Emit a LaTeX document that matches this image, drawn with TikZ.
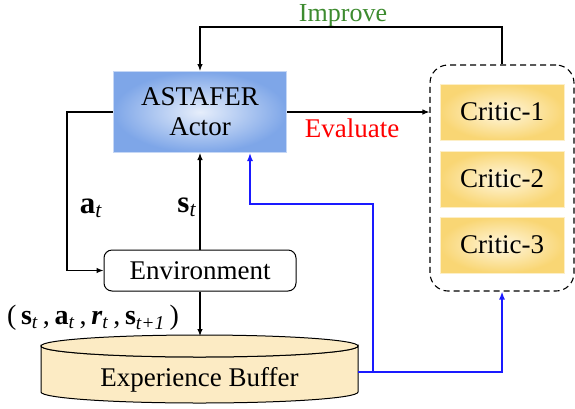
\documentclass[tikz,border=0pt]{standalone}
\usepackage{fontspec}
\setmainfont{Liberation Serif}
\usepackage{xcolor}
\usetikzlibrary{positioning}
\usetikzlibrary{arrows.meta}

\definecolor{actorin}{HTML}{E6EEFB}
\definecolor{actorout}{HTML}{7EA6E8}
\definecolor{criticin}{HTML}{FFF7E0}
\definecolor{criticout}{HTML}{F9D674}
\definecolor{bufferfill}{HTML}{FCEBC4}
\definecolor{improvegreen}{HTML}{3D8B2F}
\definecolor{feedblue}{HTML}{1A1AFF}

\newcommand{\bvec}[2]{\textbf{#1}\textsubscript{\textit{#2}}}

\tikzset{
  flow/.style={draw, line width=1.1pt, -{Latex[length=7pt,width=5.5pt]}},
  blueflow/.style={draw=feedblue, line width=1.4pt, -{Latex[length=8pt,width=6pt]}},
  actorbox/.style={rectangle, draw=actorout!45, line width=1pt, inner color=actorin, outer color=actorout,
    minimum width=173pt, minimum height=81pt, align=center},
  criticbox/.style={rectangle, draw=criticout!40, line width=1pt, inner color=criticin, outer color=criticout,
    minimum width=124pt, minimum height=56pt},
  envbox/.style={rectangle, draw, rounded corners=8pt, line width=1pt, minimum width=192pt, minimum height=41pt},
  ensemble/.style={rectangle, draw, dash pattern=on 6pt off 4pt, rounded corners=18pt, line width=1.1pt,
    minimum width=144pt, minimum height=226pt},
  buffer/.style={draw, fill=bufferfill, line width=1pt}
}

\begin{document}
\begin{tikzpicture}[x=1pt, y=-1pt, font=\fontsize{27}{30}\selectfont]
    \useasboundingbox (0,0) rectangle (575,408);

    % Nodes
    \node[actorbox] (actor) at (200,112) {ASTAFER\\Actor};
    \node[envbox] (env) at (200,270.5) {Environment};
    \node[ensemble] (crit) at (502,178) {};
    \node[criticbox] (c1) at (502,112) {Critic-1};
    \node[criticbox] (c2) at (502,179) {Critic-2};
    \node[criticbox] (c3) at (502,245) {Critic-3};

    % Experience buffer (cylinder)
    \draw[buffer] (41,346) -- (41,392) arc[start angle=180, end angle=0, x radius=158.5, y radius=11]
        -- (358,346) arc[start angle=0, end angle=180, x radius=158.5, y radius=11] -- cycle;
    \draw[buffer] (199.5,346) ellipse[x radius=158.5, y radius=11];
    \node (buffer) at (199.5,380) {Experience Buffer};
    \coordinate (buftop) at (200,336);
    \coordinate (bufright) at (358,372);
    \coordinate (split) at (373,372);
    \coordinate (toprail) at (350,27);

    % Labels
    \node[text=improvegreen, anchor=base, inner sep=0pt, font=\fontsize{26}{28}\selectfont] (improve) at (343,21) {Improve};
    \node[text=red] (evaluate) at (352,128) {Evaluate};
    \node[font=\fontsize{31}{34}\selectfont] (at) at (91,208) {\bvec{a}{t}};
    \node[font=\fontsize{31}{34}\selectfont] (st) at (187,207) {\bvec{s}{t}};
    \node[font=\fontsize{28}{30}\selectfont] (tuple) at (93,318)
        {(\,\bvec{s}{t}\,,\,\bvec{a}{t}\,,\,\textbf{\textit{r}}\textsubscript{\textit{t}}\,,\,\bvec{s}{t+1}\,)};

    % Edges
    \draw[flow] (actor.west) -- ++(-46,0) |- (env.west);
    \draw[flow] (env.north) -- (actor.south);
    \draw[flow] (env.south) -- (buftop);
    \draw[flow] (actor.east) -- (crit.west |- actor.east);
    \draw[flow] (crit.north) |- (toprail) -| (actor.north);
    \draw[blueflow] (bufright) -| (crit.south);
    \draw[blueflow] (split) |- ([xshift=50pt]actor.south |- 0,204) -- ([xshift=50pt]actor.south);
\end{tikzpicture}
\end{document}
